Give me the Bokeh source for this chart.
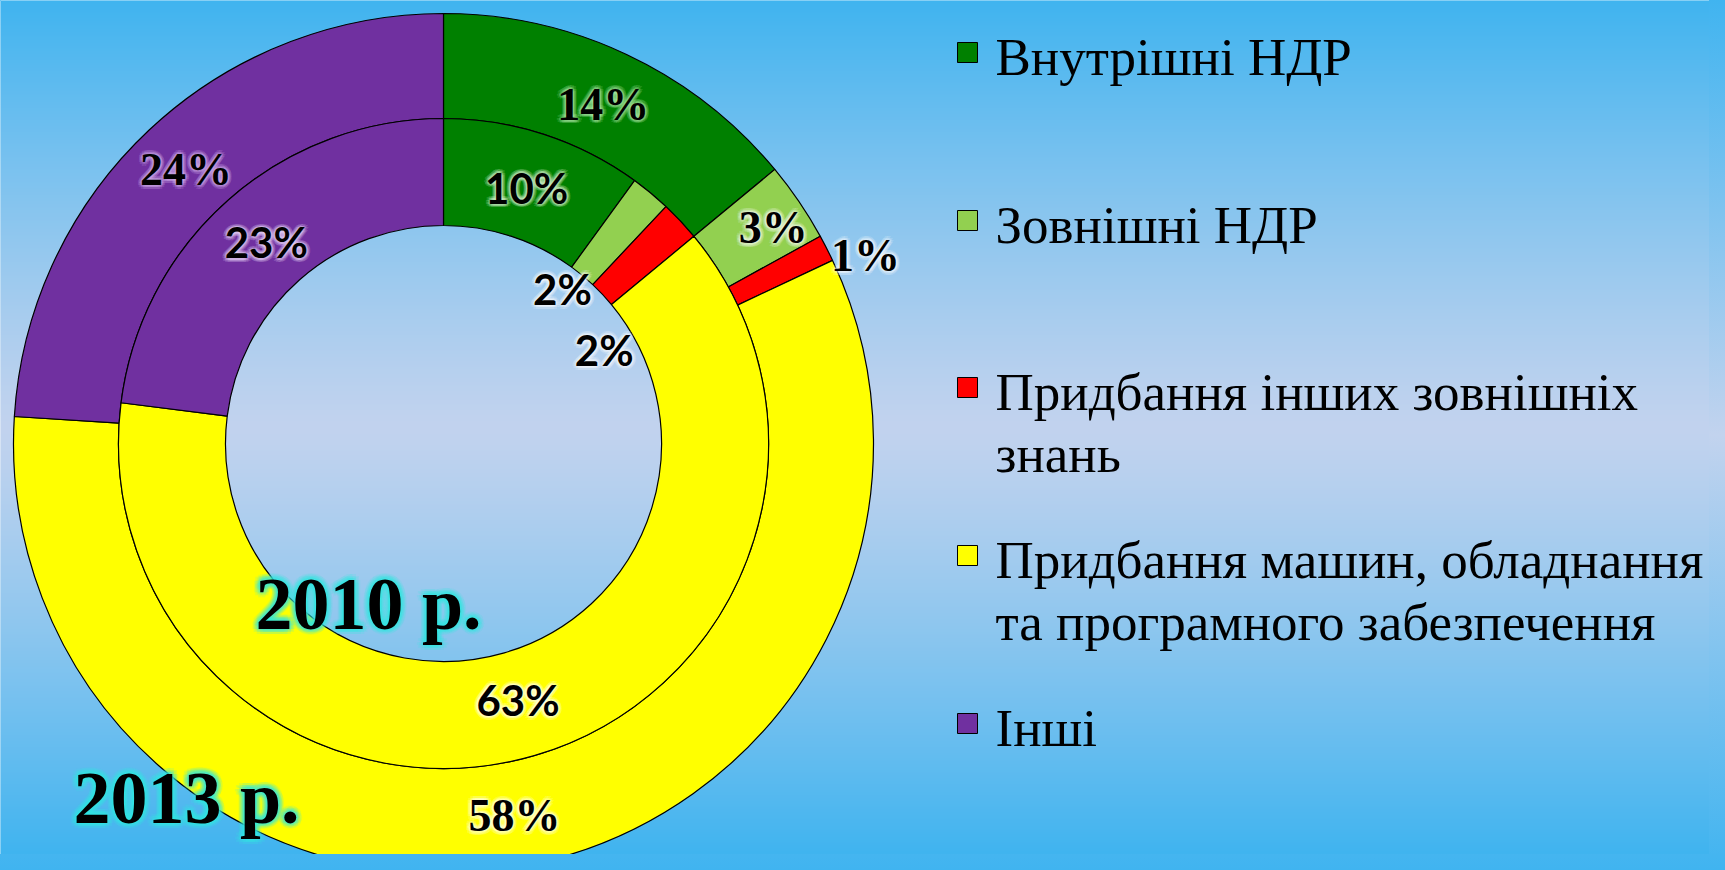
import numpy as np
from bokeh.plotting import figure
from bokeh.models import Range1d
from bokeh.core.properties import value
from bokeh.embed import file_html
from bokeh.resources import INLINE

# ---------------- data ----------------
categories = ["Внутрішні НДР", "Зовнішні НДР", "Придбання інших зовнішніх знань",
              "Придбання машин, обладнання та програмного забезпечення", "Інші"]
legend_lines = [["Внутрішні НДР"], ["Зовнішні НДР"], ["Придбання інших зовнішніх", "знань"],
                ["Придбання машин, обладнання", "та програмного забезпечення"], ["Інші"]]
values_2013 = [14, 3, 1, 58, 24]
values_2010 = [10, 2, 2, 63, 23]
colors = ["#008000", "#92d050", "#ff0000", "#ffff00", "#7030a0"]
year_labels = ["2010 р.", "2013 р."]

# ---------------- layout ----------------
W, H = 1709, 854
p = figure(width=W, height=H, x_range=Range1d(0, W), y_range=Range1d(0, H),
           output_backend="svg", toolbar_location=None, x_axis_type=None, y_axis_type=None,
           min_border=0, outline_line_color=None)
p.grid.visible = False

def X(xr):
    return xr

def Y(yr):
    return H - yr

# background gradient (decoration)
rows = H
t = np.abs(np.linspace(0, 1, rows) - 0.5) / 0.5
t = np.clip(t, 0, 1) ** 1.2
edge = np.array([64, 180, 240])
mid = np.array([194, 211, 238])
cols = (mid[None, :] * (1 - t[:, None]) + edge[None, :] * t[:, None]).astype(np.uint32)
img = np.empty((rows, 2), dtype=np.uint32)
view = img.view(dtype=np.uint8).reshape((rows, 2, 4))
for j in range(2):
    view[:, j, 0] = cols[:, 0]
    view[:, j, 1] = cols[:, 1]
    view[:, j, 2] = cols[:, 2]
    view[:, j, 3] = 255
p.image_rgba(image=[img], x=0, y=0, dw=W, dh=H)

cx, cy = X(443), Y(443)
r_hole, r_mid, r_out = 218, 325, 430

def ring(vals, r_in, r_o):
    v = np.array(vals, dtype=float)
    frac = v / v.sum()
    cum = np.concatenate([[0], np.cumsum(frac)])
    start = np.pi / 2 - 2 * np.pi * cum[:-1]
    end = np.pi / 2 - 2 * np.pi * cum[1:]
    p.annular_wedge(x=cx, y=cy, inner_radius=r_in, outer_radius=r_o,
                    start_angle=list(start), end_angle=list(end), direction="clock",
                    fill_color=colors, line_color="black", line_width=1.2)
    return (start + end) / 2

mid13 = ring(values_2013, r_mid, r_out)
mid10 = ring(values_2010, r_hole, r_mid)

def glow_text(x, y, txt, font, size, glow, bold=True, alpha=0.16, radii=(2, 4), color="black"):
    style = "bold" if bold else "normal"
    for rad in radii:
        for a in np.linspace(0, 2 * np.pi, 10, endpoint=False):
            p.text(x=[x + rad * np.cos(a)], y=[y + rad * np.sin(a)], text=[txt],
                   text_font=value(font), text_font_size=f"{size}px", text_font_style=style,
                   text_color=glow, text_alpha=alpha, text_align="center", text_baseline="middle")
    p.text(x=[x], y=[y], text=[txt], text_font=value(font), text_font_size=f"{size}px",
           text_font_style=style, text_color=color, text_align="center", text_baseline="middle")

# label placement tweaks (radius, angle offset in degrees)
place13 = {0: (375, 0), 1: (394, -1), 2: (462, -3), 3: (379, 0), 4: (376, 0)}
place10 = {0: (269, 0), 1: (195, 2), 2: (186, -13), 3: (267, 0), 4: (268, 0)}
glow13 = ["#b8f0b0", "white", "white", "white", "#d8b8f0"]
glow10 = ["#e0f8d8", "white", "white", "white", "#f0e0ff"]

for i, v in enumerate(values_2013):
    r, da = place13[i]
    a = mid13[i] + np.radians(da)
    glow_text(cx + r * np.cos(a), cy + r * np.sin(a), f"{v}%", "Liberation Serif", 46, glow13[i])
for i, v in enumerate(values_2010):
    r, da = place10[i]
    a = mid10[i] + np.radians(da)
    glow_text(cx + r * np.cos(a), cy + r * np.sin(a), f"{v}%", "Lato", 42, glow10[i])

# year labels
glow_text(X(368), Y(603), year_labels[0], "Liberation Serif", 74, "#30e8e0", alpha=0.14, radii=(2, 4, 6))
glow_text(X(186), Y(797), year_labels[1], "Liberation Serif", 74, "#30e8e0", alpha=0.14, radii=(2, 4, 6))

# legend
row_y = [52, 220, 387, 555, 723]
for i, lines in enumerate(legend_lines):
    p.rect(x=[X(967)], y=[Y(row_y[i])], width=20, height=20, fill_color=colors[i],
           line_color="black", line_width=1)
    for k, ln in enumerate(lines):
        p.text(x=[X(995)], y=[Y(row_y[i] + 4 + k * 62)], text=[ln],
               text_font=value("Liberation Serif"), text_font_size="53px",
               text_color="black", text_align="left", text_baseline="middle")

html = file_html(p, INLINE)
html = html.replace("<head>", "<head><style>html,body{background:linear-gradient(#40b4f0,#c2d3ee,#40b4f0);}</style>", 1)
open("out.html", "w").write(html)
